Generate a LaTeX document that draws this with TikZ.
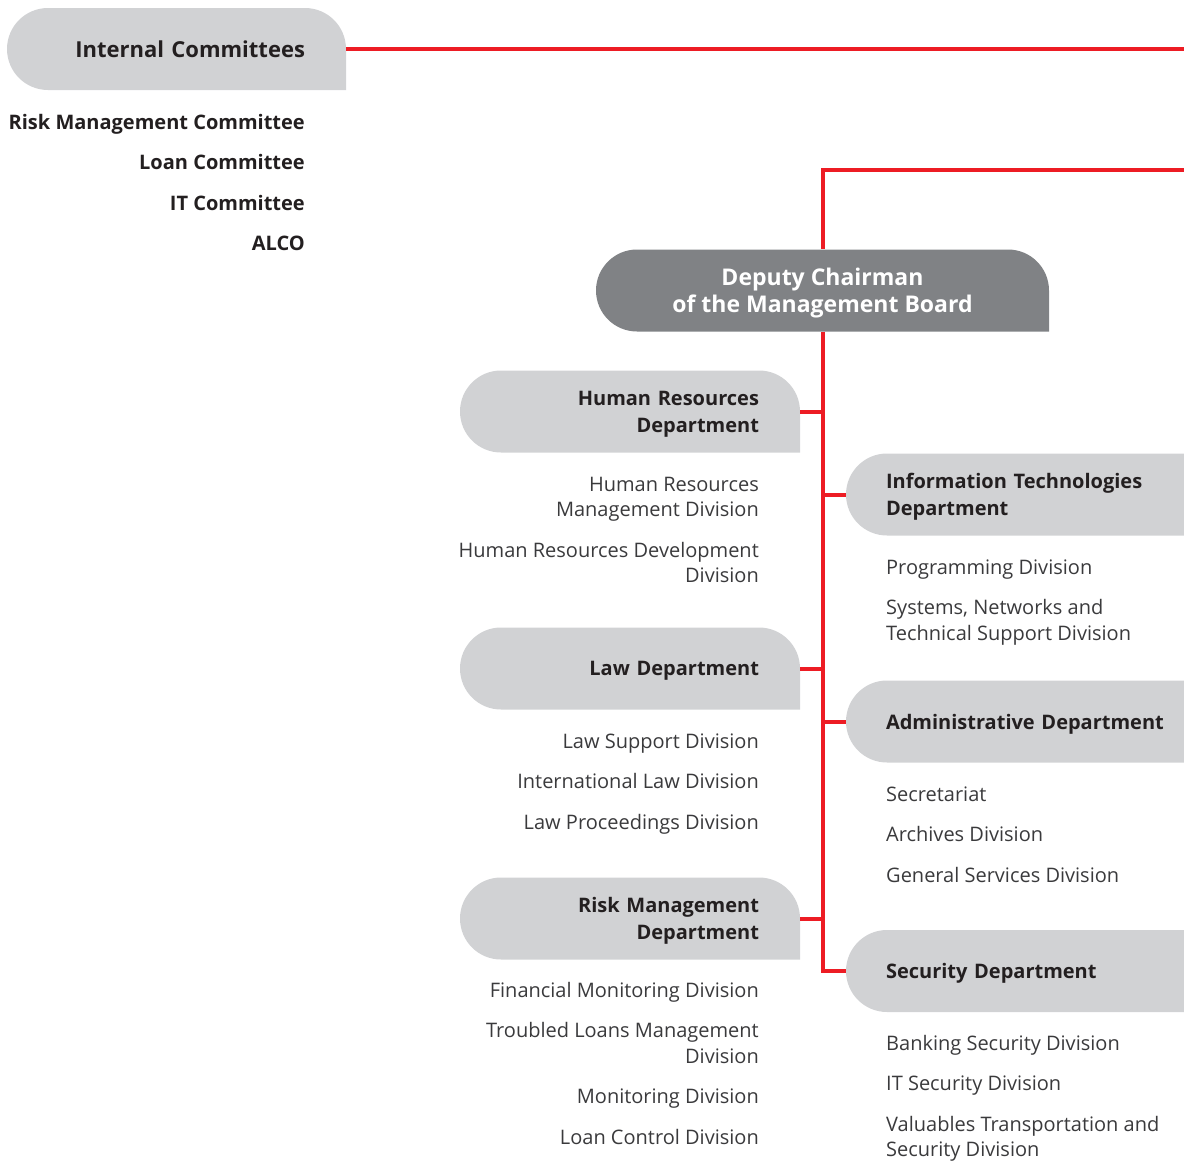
\documentclass[tikz,border=0pt]{standalone}
\usepackage{fontspec}
\setmainfont{Open Sans}
\usetikzlibrary{positioning}

\definecolor{boxgray}{HTML}{D1D2D4}
\definecolor{chairgray}{HTML}{808285}
\definecolor{orgred}{HTML}{ED1C24}
\definecolor{txtdark}{HTML}{231F20}
\definecolor{txtlight}{HTML}{3A3A3C}

\begin{document}
\begin{tikzpicture}[x=1pt, y=-1pt,
    % grey box, round on the left, round top right corner
    pillfill/.style={path picture={
        \fill[#1] (path picture bounding box.south east)
          -- ([xshift=41pt]path picture bounding box.south west)
          arc[start angle=270, end angle=90, radius=41pt]
          -- ([xshift=-41pt]path picture bounding box.north east)
          arc[start angle=90, end angle=0, radius=41pt] -- cycle;}},
    headfont/.style={font=\bfseries\fontsize{20}{27}\selectfont, text depth=0pt},
    twolines/.style={text depth=27pt},
    deptright/.style={pillfill=boxgray, headfont, text=txtdark, minimum width=340pt,
        minimum height=82pt, inner xsep=41pt, inner ysep=0pt, text width=258pt, align=right},
    deptleft/.style={pillfill=boxgray, headfont, text=txtdark, minimum width=380pt,
        minimum height=82pt, inner xsep=40pt, inner ysep=0pt, text width=300pt, align=left},
    divright/.style={anchor=north east, inner sep=0pt, align=right, text=txtlight,
        font=\fontsize{20}{25.5}\selectfont},
    divleft/.style={anchor=north west, inner sep=0pt, align=left, text=txtlight,
        font=\fontsize{20}{25.5}\selectfont},
    redline/.style={draw=orgred, line width=4pt}]

    \useasboundingbox (0,0) rectangle (1184,1162);

    % committees
    \node[deptright, minimum width=339pt, text width=257pt, font=\bfseries\fontsize{22}{27}\selectfont]
        (ic) at (176.5,49) {Internal Committees};
    \node[divright, text=txtdark, font=\bfseries\fontsize{20}{25.5}\selectfont] (iclist) at (305,111)
        {\strut Risk Management Committee\\[15pt] Loan Committee\\[15pt] IT Committee\\[15pt] ALCO};

    % deputy chairman
    \node[pillfill=chairgray, headfont, font=\bfseries\fontsize{23}{27}\selectfont, text=white,
        minimum width=453pt, minimum height=82pt, inner sep=0pt, align=center]
        (dep) at (822.5,290.5) {Deputy Chairman\\of the Management Board};

    % departments on the left
    \node[deptright, twolines] (hr) at (630,411.5) {Human Resources\\Department};
    \node[deptright] (law) at (630,668.5) {Law Department};
    \node[deptright, twolines] (risk) at (630,918.5) {Risk Management\\Department};

    % departments on the right
    \node[deptleft, twolines] (it) at (1036,494.5) {Information Technologies\\Department};
    \node[deptleft] (adm) at (1036,721.5) {Administrative Department};
    \node[deptleft] (sec) at (1036,971) {Security Department};

    % divisions
    \node[divright] (hrdiv) at (759,473) {\strut Human Resources\\Management Division\\[15pt]
        Human Resources Development\\Division};
    \node[divright] (lawdiv) at (759,730) {\strut Law Support Division\\[15pt]
        International Law Division\\[15pt] Law Proceedings Division};
    \node[divright] (riskdiv) at (759,979) {\strut Financial Monitoring Division\\[15pt]
        Troubled Loans Management\\Division\\[15pt] Monitoring Division\\[15pt] Loan Control Division};
    \node[divleft] (itdiv) at (886,556) {\strut Programming Division\\[15pt]
        Systems, Networks and\\Technical Support Division};
    \node[divleft] (admdiv) at (886,783) {\strut Secretariat\\[15pt] Archives Division\\[15pt]
        General Services Division};
    \node[divleft] (secdiv) at (886,1032) {\strut Banking Security Division\\[15pt]
        IT Security Division\\[15pt] Valuables Transportation and\\Security Division};

    % red lines
    \coordinate (icend) at (1184,49);
    \coordinate (topend) at (1184,170);
    \draw[redline] (ic.east) -- (icend);
    \draw[redline] (topend) -| (dep.north);
    \draw[redline] (dep.south) |- (sec.west);
    \foreach \d in {hr,law,risk}
        \draw[redline] (\d.east) -- (\d.east -| dep.south);
    \foreach \d in {it,adm}
        \draw[redline] (\d.west) -- (\d.west -| dep.south);
\end{tikzpicture}
\end{document}
